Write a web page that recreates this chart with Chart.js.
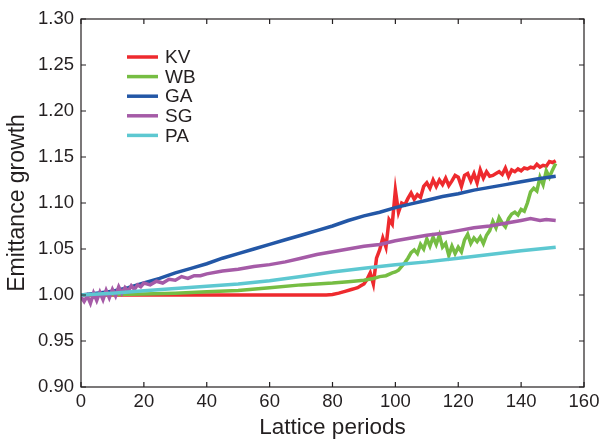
<!DOCTYPE html>
<html>
<head>
<meta charset="utf-8">
<script src="https://cdn.jsdelivr.net/npm/chart.js@4/dist/chart.umd.min.js"></script>
<style>
  html, body { margin: 0; padding: 0; background: #fff; }
  #wrap { width: 612px; height: 444px; }
</style>
</head>
<body>
<div id="wrap"><canvas id="myChart" width="612" height="444"></canvas></div>
<script>
// series names
var seriesNames = ['KV', 'WB', 'GA', 'SG', 'PA'];

// KV
var kvPeriods = [0, 10, 20, 30, 40, 50, 60, 70, 75, 78, 80, 82, 84, 86, 87, 88, 89, 90, 91, 92, 93, 94, 95, 96, 97, 98, 99, 100,
    101, 102, 103, 104, 105, 106, 107, 108, 109, 110, 111, 112, 113, 114, 115, 116, 117, 118, 119, 120,
    121, 122, 123, 124, 125, 126, 127, 128, 129, 130, 131, 132, 133, 134, 135, 136, 137, 138, 139, 140,
    141, 142, 143, 144, 145, 146, 147, 148, 149, 150, 151];
var kvValues = [1.000, 1.000, 1.000, 1.000, 1.000, 1.000, 1.000, 1.000, 1.000, 1.000, 1.0005, 1.002, 1.004, 1.006, 1.007, 1.008, 1.010, 1.012, 1.017, 1.024, 1.012, 1.040, 1.049, 1.062, 1.052, 1.082, 1.077, 1.114,
    1.090, 1.100, 1.098, 1.105, 1.111, 1.104, 1.109, 1.106, 1.118, 1.122, 1.116, 1.125, 1.118, 1.125, 1.120, 1.127, 1.119, 1.124, 1.130, 1.128,
    1.118, 1.130, 1.132, 1.124, 1.132, 1.122, 1.136, 1.127, 1.134, 1.129, 1.130, 1.132, 1.134, 1.131, 1.138, 1.129, 1.136, 1.134, 1.137, 1.135,
    1.138, 1.137, 1.139, 1.138, 1.142, 1.139, 1.141, 1.140, 1.145, 1.144, 1.146];

// WB
var wbPeriods = [0, 10, 20, 30, 40, 50, 60, 70, 80, 85, 90, 93, 95, 97, 99, 100,
    101, 102, 103, 104, 105, 106, 107, 108, 109, 110, 111, 112, 113, 114, 115, 116, 117, 118, 119, 120,
    121, 122, 123, 124, 125, 126, 127, 128, 129, 130, 131, 132, 133, 134, 135, 136, 137, 138, 139, 140,
    141, 142, 143, 144, 145, 146, 147, 148, 149, 150, 151];
var wbValues = [1.000, 1.0005, 1.001, 1.002, 1.0035, 1.005, 1.008, 1.011, 1.013, 1.0145, 1.016, 1.018, 1.020, 1.021, 1.024, 1.025,
    1.027, 1.031, 1.035, 1.040, 1.046, 1.049, 1.045, 1.055, 1.050, 1.061, 1.053, 1.063, 1.055, 1.065, 1.052, 1.056, 1.043, 1.053, 1.045, 1.052,
    1.047, 1.060, 1.066, 1.056, 1.062, 1.058, 1.063, 1.056, 1.065, 1.070, 1.080, 1.073, 1.084, 1.078, 1.074, 1.083, 1.088, 1.090, 1.087, 1.093,
    1.091, 1.100, 1.112, 1.116, 1.113, 1.128, 1.120, 1.135, 1.128, 1.136, 1.143];

// GA
var gaPeriods = [0, 5, 10, 15, 20, 25, 30, 35, 40, 45, 50, 55, 60, 65, 70, 75, 80, 85, 90, 95, 100,
    105, 110, 115, 120, 125, 130, 135, 140, 145, 151];
var gaValues = [1.000, 1.002, 1.004, 1.008, 1.013, 1.018, 1.024, 1.029, 1.034, 1.040, 1.045, 1.050, 1.055, 1.060, 1.065, 1.070, 1.075, 1.081, 1.086, 1.090, 1.095,
    1.099, 1.103, 1.107, 1.110, 1.114, 1.117, 1.120, 1.123, 1.126, 1.129];

// SG
var sgPeriods = [0, 1, 2, 3, 4, 5, 6, 7, 8, 9, 10, 11, 12, 13, 14, 15, 16, 17, 18, 19, 20,
    22, 24, 26, 28, 30, 32, 34, 36, 38, 40, 45, 50, 55, 60, 65, 70, 75, 80, 85, 90, 95, 100,
    105, 110, 115, 120, 125, 130, 135, 140, 143, 146, 148, 151];
var sgValues = [0.998, 0.993, 0.999, 0.991, 1.002, 0.994, 1.003, 0.995, 1.005, 0.997, 1.006, 0.999, 1.009, 1.002, 1.008, 1.004, 1.010, 1.006, 1.011, 1.009, 1.013,
    1.011, 1.015, 1.013, 1.017, 1.016, 1.020, 1.018, 1.021, 1.021, 1.023, 1.026, 1.028, 1.031, 1.033, 1.036, 1.040, 1.044, 1.047, 1.050, 1.053, 1.055, 1.059,
    1.062, 1.065, 1.067, 1.070, 1.073, 1.075, 1.078, 1.081, 1.083, 1.081, 1.082, 1.081];

// PA
var paPeriods = [0, 10, 20, 30, 40, 50, 60, 70, 80, 90, 100, 110, 120, 130, 140, 151];
var paValues = [1.000, 1.002, 1.0045, 1.007, 1.0095, 1.012, 1.0155, 1.020, 1.025, 1.029, 1.033, 1.036, 1.040, 1.044, 1.048, 1.052];

// axis ticks
var xTicks = [0, 20, 40, 60, 80, 100, 120, 140, 160];
var yTicks = [0.90, 0.95, 1.00, 1.05, 1.10, 1.15, 1.20, 1.25, 1.30];

var colors = ['#ee2a2e', '#76bd43', '#2357a6', '#a55ba7', '#5dc8d1'];

function pts(xs, ys) {
    return xs.map(function (x, i) { return { x: x, y: ys[i] }; });
}

var allData = [
    pts(kvPeriods, kvValues),
    pts(wbPeriods, wbValues),
    pts(gaPeriods, gaValues),
    pts(sgPeriods, sgValues),
    pts(paPeriods, paValues)
];

var textColor = '#231f20';
var fontFamily = '"Liberation Sans", Arial, sans-serif';

// frame, inward ticks and legend
var framePlugin = {
    id: 'frame',
    afterDatasetsDraw: function (chart) {
        var ctx = chart.ctx;
        var a = chart.chartArea;
        var xs = chart.scales.x, ys = chart.scales.y;
        ctx.save();
        ctx.strokeStyle = '#231f20';
        ctx.lineWidth = 1.2;
        ctx.strokeRect(a.left, a.top, a.right - a.left, a.bottom - a.top);
        ctx.beginPath();
        xTicks.forEach(function (t) {
            var px = xs.getPixelForValue(t);
            ctx.moveTo(px, a.bottom); ctx.lineTo(px, a.bottom - 5);
            ctx.moveTo(px, a.top); ctx.lineTo(px, a.top + 5);
        });
        yTicks.forEach(function (t) {
            var py = ys.getPixelForValue(t);
            ctx.moveTo(a.left, py); ctx.lineTo(a.left + 5, py);
            ctx.moveTo(a.right, py); ctx.lineTo(a.right - 5, py);
        });
        ctx.stroke();

        // legend
        ctx.font = '19px ' + fontFamily;
        ctx.textBaseline = 'middle';
        ctx.textAlign = 'left';
        seriesNames.forEach(function (name, i) {
            var y = 57 + i * 19.6;
            ctx.strokeStyle = colors[i];
            ctx.lineWidth = 3.5;
            ctx.beginPath();
            ctx.moveTo(127, y); ctx.lineTo(158, y);
            ctx.stroke();
            ctx.fillStyle = textColor;
            ctx.fillText(name, 165, y + 1);
        });
        ctx.restore();
    }
};

var ctx = document.getElementById('myChart').getContext('2d');
var chart = new Chart(ctx, {
    type: 'line',
    data: {
        datasets: seriesNames.map(function (name, i) {
            return {
                label: name,
                data: allData[i],
                borderColor: colors[i],
                backgroundColor: colors[i],
                borderWidth: 3.5,
                pointRadius: 0,
                tension: 0,
                fill: false,
                order: 5 - i
            };
        })
    },
    options: {
        responsive: false,
        animation: false,
        layout: { padding: { top: 19, right: 28, left: 0, bottom: 0 } },
        plugins: {
            legend: { display: false },
            tooltip: { enabled: false }
        },
        scales: {
            x: {
                type: 'linear',
                min: 0,
                max: 160,
                grid: { display: false, drawTicks: false },
                border: { display: false },
                afterBuildTicks: function (scale) {
                    scale.ticks = xTicks.map(function (v) { return { value: v }; });
                },
                afterFit: function (scale) { scale.height = 57; },
                ticks: {
                    padding: 4,
                    color: textColor,
                    font: { family: fontFamily, size: 18.5 },
                    maxRotation: 0
                },
                title: {
                    display: true,
                    text: 'Lattice periods',
                    color: textColor,
                    font: { family: fontFamily, size: 22.5 },
                    padding: { top: 0, bottom: 3 }
                }
            },
            y: {
                min: 0.90,
                max: 1.30,
                grid: { display: false, drawTicks: false },
                border: { display: false },
                afterBuildTicks: function (scale) {
                    scale.ticks = yTicks.map(function (v) { return { value: v }; });
                },
                afterFit: function (scale) { scale.width = 81; },
                ticks: {
                    padding: 7,
                    color: textColor,
                    font: { family: fontFamily, size: 18.5 },
                    callback: function (v) { return v.toFixed(2); }
                },
                title: {
                    display: true,
                    text: 'Emittance growth',
                    color: textColor,
                    font: { family: fontFamily, size: 23 },
                    padding: { top: 4, bottom: 2 }
                }
            }
        }
    },
    plugins: [framePlugin]
});
</script>
</body>
</html>
